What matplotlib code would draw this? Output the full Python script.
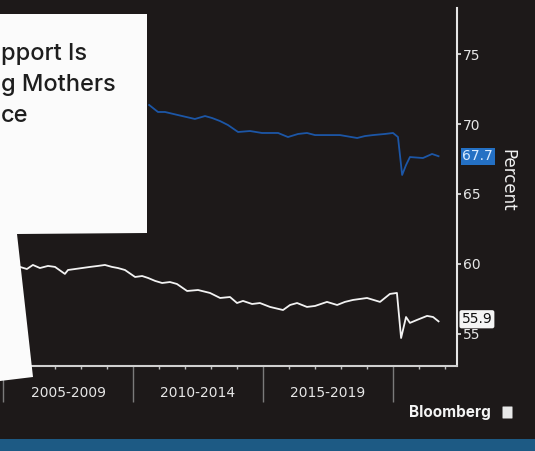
import matplotlib
matplotlib.use('Agg')
import matplotlib.pyplot as plt
from matplotlib.patches import Polygon, Rectangle, FancyBboxPatch

# values (year as decimal, percent)
white_years = [2005.65, 2005.92, 2006.15, 2006.42, 2006.73, 2007.0, 2007.38, 2007.5,
               2008.04, 2008.35, 2008.65, 2008.92, 2009.19, 2009.42, 2009.69, 2010.08,
               2010.35, 2010.58, 2010.85, 2011.12, 2011.42, 2011.69, 2012.08, 2012.5,
               2012.96, 2013.35, 2013.73, 2014.0, 2014.23, 2014.58, 2014.88, 2015.27,
               2015.77, 2016.04, 2016.31, 2016.69, 2017.0, 2017.46, 2017.85, 2018.15,
               2018.46, 2018.73, 2019.0, 2019.5, 2019.88, 2020.15, 2020.31, 2020.5,
               2020.65, 2020.92, 2021.31, 2021.54, 2021.75]
white_vals = [59.79, 59.64, 59.93, 59.71, 59.86, 59.79, 59.29, 59.57,
              59.71, 59.79, 59.86, 59.93, 59.79, 59.71, 59.57, 59.07,
              59.14, 59.0, 58.79, 58.64, 58.71, 58.57, 58.07, 58.14,
              57.93, 57.57, 57.64, 57.21, 57.36, 57.14, 57.21, 56.93,
              56.71, 57.07, 57.21, 56.93, 57.0, 57.29, 57.07, 57.29,
              57.43, 57.5, 57.57, 57.29, 57.86, 57.93, 54.71, 56.21,
              55.79, 56.0, 56.29, 56.21, 55.9]

blue_years = [2010.62, 2010.96, 2011.23, 2011.73, 2012.38, 2012.77, 2013.04, 2013.35,
              2013.65, 2014.04, 2014.5, 2014.96, 2015.58, 2015.96, 2016.35, 2016.69,
              2017.0, 2017.31, 2017.96, 2018.62, 2018.92, 2019.23, 2019.69, 2020.0,
              2020.19, 2020.35, 2020.5, 2020.65, 2021.15, 2021.5, 2021.75]
blue_vals = [71.36, 70.86, 70.86, 70.64, 70.36, 70.57, 70.43, 70.21,
             69.93, 69.43, 69.5, 69.36, 69.36, 69.07, 69.29, 69.36,
             69.21, 69.21, 69.21, 69.0, 69.14, 69.21, 69.29, 69.36,
             69.07, 66.36, 67.07, 67.64, 67.57, 67.86, 67.7]

period_labels = ['2005-2009', '2010-2014', '2015-2019']
period_mids = [2007.5, 2012.5, 2017.5]
y_ticks = [55, 60, 65, 70, 75]
title_lines = ['pport Is', 'g Mothers', 'ce']

bg = '#1d1919'
fig = plt.figure(figsize=(5.35, 4.51), dpi=100, facecolor=bg)
ax = fig.add_axes([3/535, 85/451, 454/535, 358/451])
ax.set_facecolor('none')

ax.plot(white_years, white_vals, color='#f2f2f2', lw=1.3)
ax.plot(blue_years, blue_vals, color='#1c56a6', lw=1.3)

ax.set_xlim(2005, 2022.46)
ax.set_ylim(52.71, 78.29)

for s in ['top', 'left']:
    ax.spines[s].set_visible(False)
ax.spines['right'].set_color('#e6e6e6')
ax.spines['right'].set_linewidth(1.5)
ax.spines['bottom'].set_color('#d0d0d0')
ax.spines['bottom'].set_linewidth(1.5)

ax.yaxis.tick_right()
ax.set_yticks(y_ticks)
ax.tick_params(axis='y', direction='out', length=3, width=1.2, color='#e6e6e6',
               labelcolor='#e6e6e6', labelsize=10, pad=1)
ax.set_xticks([2005, 2010, 2015, 2020])
ax.set_xticks(range(2006, 2023), minor=True)
ax.tick_params(axis='x', which='major', direction='out', length=26, width=1,
               color='#7a7a7a', labelbottom=False)
ax.tick_params(axis='x', which='minor', direction='out', length=2, width=1,
               color='#bdbdbd')

for lab, mid in zip(period_labels, period_mids):
    ax.text(mid, -0.075, lab, transform=ax.get_xaxis_transform(), ha='center',
            va='center', color='#e6e6e6', fontsize=10)

ax.text(1.112, 0.52, 'Percent', transform=ax.transAxes, rotation=270, ha='center',
        va='center', color='#f0f0f0', fontsize=12)

yt = ax.get_yaxis_transform()
ax.text(1.012, blue_vals[-1], f'{blue_vals[-1]:.1f}', transform=yt, ha='left',
        va='center', color='#d8eaff', fontsize=10, zorder=6,
        bbox=dict(boxstyle='square,pad=0.12', fc='#2470c4', ec='none'))
ax.text(1.01, white_vals[-1] + 0.15, f'{white_vals[-1]:.1f}', transform=yt, ha='left',
        va='center', color='#111111', fontsize=10, zorder=6,
        bbox=dict(boxstyle='round,pad=0.15', fc='#f4f4f4', ec='none'))

# overlay in pixel units: paper card, bottom strip, logo
ov = fig.add_axes([0, 0, 1, 1], zorder=5)
ov.set_xlim(0, 535)
ov.set_ylim(451, 0)
ov.axis('off')
ov.patch.set_alpha(0)

ov.add_patch(Polygon([(0, 14), (147, 14), (147, 233), (17, 234), (33, 377), (0, 381)],
                     closed=True, fc='#fbfbfb', ec='none'))
for i, line in enumerate(title_lines):
    ov.text(1, 60 + i * 31, line, ha='left', va='baseline', color='#1e1e1e',
            fontsize=17, family='Inter', fontweight='medium')

ov.add_patch(Rectangle((0, 439), 535, 12, fc='#1d5a84', ec='none'))
ov.text(409, 413, 'Bloomberg', ha='left', va='center', color='#f4f4f4',
        fontsize=11, family='Inter', fontweight='bold')
ov.add_patch(FancyBboxPatch((503, 407), 9, 11, boxstyle='round,pad=0.5',
                            fc='#e8e8e8', ec='none'))

fig.savefig('out.png', dpi=100, facecolor=bg)
